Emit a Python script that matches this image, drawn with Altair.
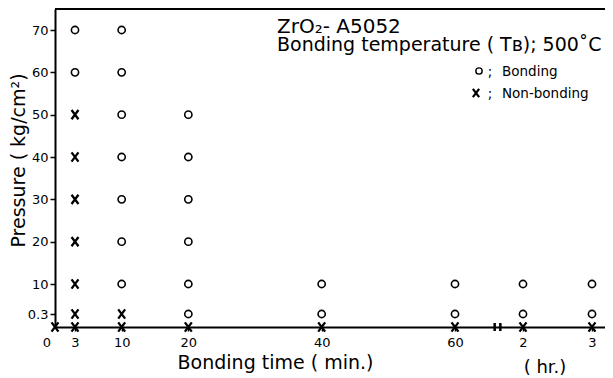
import altair as alt
import pandas as pd

# Bonding (open circles): time in minutes, pressure in kg/cm2
bond_time = [3, 3, 10, 10, 10, 10, 10, 10, 10, 20, 20, 20, 20, 20, 20,
             40, 40, 60, 60, 120, 120, 180, 180]
bond_pres = [70, 60, 70, 60, 50, 40, 30, 20, 10, 50, 40, 30, 20, 10, 0.3,
             10, 0.3, 10, 0.3, 10, 0.3, 10, 0.3]

# Non-bonding (crosses)
non_time = [3, 3, 3, 3, 3, 3, 10, 0, 3, 10, 20, 40, 60, 120, 180]
non_pres = [50, 40, 30, 20, 10, 0.3, 0.3, 0, 0, 0, 0, 0, 0, 0, 0]

x_ticks = [3, 10, 20, 40, 60, 120, 180]
y_ticks = [0.3, 10, 20, 30, 40, 50, 60, 70]
break_marks = [95, 100]

FONT = "DejaVu Sans"
W, H = 550, 318

xscale = alt.Scale(domain=[0, 60, 120, 180, 191], range=[0, 400, 468, 537, 550],
                   zero=False, nice=False)
yscale = alt.Scale(domain=[0, 0.3, 10, 70, 75], range=[318, 305, 275, 21, 0],
                   zero=False, nice=False)

xaxis = alt.Axis(values=x_ticks, grid=False,
                 labelExpr="datum.value >= 120 ? '' + datum.value / 60 : '' + datum.value",
                 title="Bonding time ( min.)", titleX=220, titleY=35,
                 titleBaseline="middle", titleAlign="center",
                 tickSize=4, labelPadding=5, labelFlush=False, labelOverlap=False)
yaxis = alt.Axis(values=y_ticks, grid=False, labelExpr="'' + datum.value",
                 title="Pressure ( kg/cm²)", titleX=-37, titleY=151,
                 titleBaseline="middle", titleAlign="center", titleAngle=270,
                 tickSize=5, labelPadding=2, labelFlush=False, labelOverlap=False)

bond_df = pd.DataFrame({"time": bond_time, "pressure": bond_pres})
non_df = pd.DataFrame({"time": non_time, "pressure": non_pres})

CROSS = "M-0.75,-1L0.75,1M-0.75,1L0.75,-1"

circles = alt.Chart(bond_df).mark_point(
    shape="circle", filled=False, color="black", strokeWidth=1.6, size=52, opacity=1
).encode(
    x=alt.X("time:Q", scale=xscale, axis=xaxis),
    y=alt.Y("pressure:Q", scale=yscale, axis=yaxis),
)

crosses = alt.Chart(non_df).mark_point(
    shape=CROSS, filled=False, color="black",
    strokeWidth=2.3, size=85, opacity=1
).encode(
    x=alt.X("time:Q", scale=xscale),
    y=alt.Y("pressure:Q", scale=yscale),
)

top_rule = alt.Chart(pd.DataFrame({"a": [0]})).mark_rule(
    color="black", strokeWidth=2
).encode(x=alt.value(0), x2=alt.value(W), y=alt.value(0))

brk = alt.Chart(pd.DataFrame({"time": break_marks})).mark_rule(
    color="black", strokeWidth=2.5
).encode(x=alt.X("time:Q", scale=xscale), y=alt.value(H - 4), y2=alt.value(H + 4))


def label(text, x, y, size, align="left"):
    return alt.Chart(pd.DataFrame({"a": [0]})).mark_text(
        text=text, font=FONT, fontSize=size, color="black", align=align,
        baseline="alphabetic"
    ).encode(x=alt.value(x), y=alt.value(y))


def symbol(shape, x, y, size, sw):
    return alt.Chart(pd.DataFrame({"a": [0]})).mark_point(
        shape=shape, filled=False, color="black", strokeWidth=sw, size=size, opacity=1
    ).encode(x=alt.value(x), y=alt.value(y))


texts = [
    label("ZrO₂- A5052", 222, 24, 20),
    label("Bonding temperature ( Tʙ); 500˚C", 222, 42, 19),
    symbol("circle", 424, 62, 40, 1.4),
    label(";", 435, 67, 13.5, "center"),
    label("Bonding", 447, 67, 13.5),
    symbol(CROSS, 421, 84, 70, 2.2),
    label(";", 435, 89, 13.5, "center"),
    label("Non-bonding", 447, 89, 13.5),
    label("0", -8, 338, 13, "center"),
    label("( hr.)", 490, 364, 18, "center"),
]

chart = alt.layer(top_rule, circles, crosses, brk, *texts).properties(
    width=W, height=H,
    autosize=alt.AutoSizeParams(type="none"),
    padding={"left": 47, "top": 1, "right": 0, "bottom": 50},
    background="white",
).configure_view(stroke=None).configure_axis(
    labelFont=FONT, labelFontSize=13, labelColor="black",
    titleFont=FONT, titleFontSize=19, titleColor="black", titleFontWeight="normal",
    domainColor="black", domainWidth=2, tickColor="black", tickWidth=1.5,
)

chart.save("out.html", embed_options={"renderer": "svg", "actions": False})
